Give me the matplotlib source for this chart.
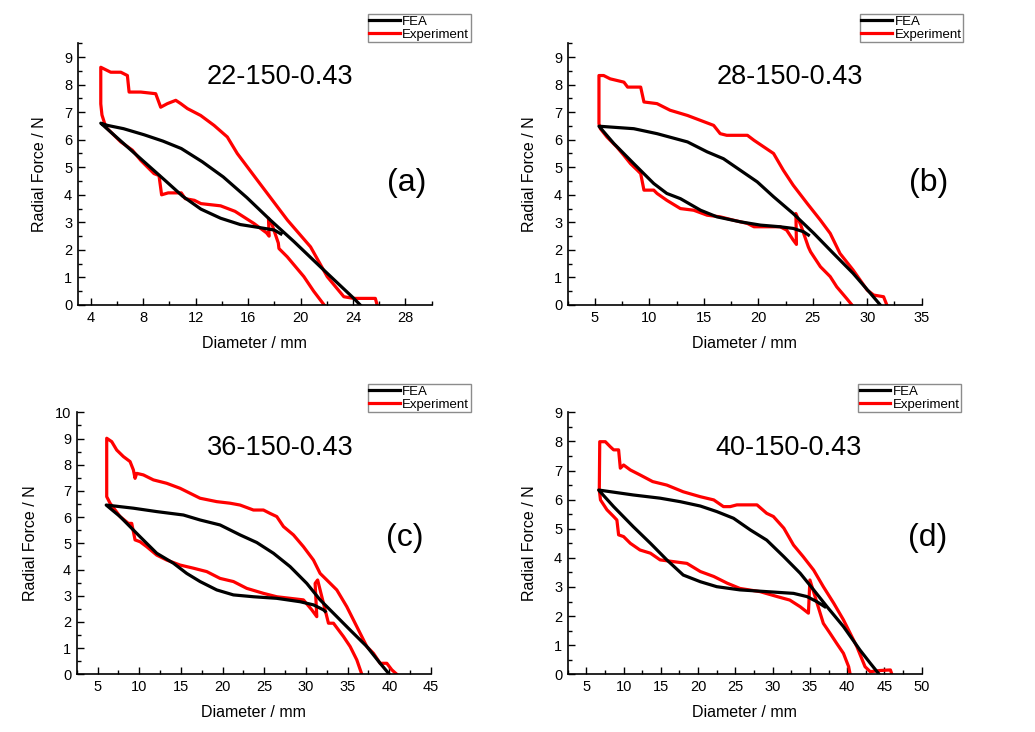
import matplotlib
matplotlib.use('Agg')
import matplotlib.pyplot as plt
from matplotlib.ticker import MultipleLocator

plt.rcParams['font.family'] = ['Liberation Sans', 'DejaVu Sans']

# ---- panel (a) 22-150-0.43 ----
a_fea_x = [24.55, 24.06, 21.5, 19.5, 17.7, 15.9, 14.1, 12.5, 10.9, 9.5, 8.06, 6.5, 5.27, 4.76,
           7.0, 9.6, 11.0, 12.4, 13.9, 15.4, 17.0, 18.0, 18.5]
a_fea_y = [0.0, 0.24, 1.39, 2.3, 3.08, 3.9, 4.65, 5.2, 5.68, 5.95, 6.18, 6.4, 6.52, 6.6,
           5.65, 4.55, 3.95, 3.48, 3.15, 2.92, 2.8, 2.72, 2.58]
a_exp_x = [25.84, 25.7, 24.06, 23.3, 22.03, 20.76, 19.0, 16.7, 15.17, 14.41, 13.4, 12.38, 11.37,
           10.86, 10.48, 9.84, 9.33, 8.95, 7.81, 6.92, 6.79, 6.29, 5.52, 4.76, 4.76, 4.85, 5.14,
           6.29, 7.17, 7.81, 8.82, 9.2, 9.4, 9.9, 10.9, 11.2, 11.9, 12.4, 13.9, 15.0, 16.44,
           17.4, 17.6, 17.55, 17.8, 18.3, 18.35, 18.98, 20.25, 21.0, 21.8]
a_exp_y = [0.0, 0.24, 0.24, 0.3, 1.03, 2.11, 3.08, 4.53, 5.5, 6.1, 6.52, 6.88, 7.13,
           7.31, 7.43, 7.31, 7.18, 7.67, 7.73, 7.73, 8.33, 8.45, 8.45, 8.63, 7.3, 6.9, 6.46,
           5.92, 5.62, 5.25, 4.77, 4.7, 4.0, 4.07, 4.07, 3.86, 3.8, 3.68, 3.6, 3.4, 2.96,
           2.62, 2.5, 3.15, 2.95, 2.25, 2.05, 1.75, 1.03, 0.5, 0.0]

# ---- panel (b) 28-150-0.43 ----
b_fea_x = [31.2, 30.3, 28.7, 26.9, 25.1, 23.2, 21.4, 19.9, 18.35, 16.8, 15.3, 13.5, 10.7, 8.57, 5.37,
           6.74, 8.57, 10.4, 11.6, 12.85, 14.7, 16.2, 18.35, 20.2, 22.0, 23.2, 24.15, 24.6]
b_fea_y = [0.0, 0.42, 1.15, 1.87, 2.6, 3.32, 3.93, 4.47, 4.89, 5.31, 5.56, 5.92, 6.22, 6.4, 6.49,
           5.86, 5.13, 4.41, 4.05, 3.86, 3.44, 3.2, 3.02, 2.9, 2.84, 2.78, 2.66, 2.54]
b_exp_x = [31.8, 31.5, 30.6, 30.0, 28.7, 27.5, 26.6, 25.7, 24.5, 23.2, 22.3, 21.4, 20.5, 19.6,
           19.0, 18.35, 17.1, 16.5, 15.9, 14.7, 13.5, 11.9, 10.7, 9.5, 9.2, 8.0, 7.66, 6.4, 5.8,
           5.37, 5.37, 5.5, 6.1, 7.0, 7.66, 8.27, 8.9, 9.2, 9.5, 10.4, 10.7, 11.6, 12.85, 14.07,
           15.3, 16.5, 17.7, 19.0, 19.6, 20.8, 22.0, 22.6, 23.2, 23.5, 23.45, 23.9, 24.6, 24.8,
           25.7, 26.6, 27.2, 28.1, 28.6]
b_exp_y = [0.0, 0.3, 0.36, 0.54, 1.27, 1.87, 2.6, 3.08, 3.68, 4.35, 4.89, 5.5, 5.74, 5.98,
           6.16, 6.16, 6.16, 6.22, 6.52, 6.7, 6.88, 7.07, 7.31, 7.37, 7.91, 7.91, 8.09, 8.21, 8.33,
           8.33, 6.58, 6.4, 6.1, 5.74, 5.43, 5.13, 4.89, 4.77, 4.17, 4.17, 4.05, 3.8, 3.5, 3.44,
           3.26, 3.2, 3.08, 2.96, 2.84, 2.84, 2.84, 2.72, 2.36, 2.2, 3.32, 2.9, 2.1, 1.93,
           1.39, 1.03, 0.66, 0.24, 0.0]

# ---- panel (c) 36-150-0.43 ----
c_fea_x = [39.9, 38.9, 37.3, 35.3, 33.3, 31.7, 30.1, 28.1, 26.1, 24.1, 22.1, 19.7, 17.3, 15.3, 12.1, 9.3, 6.04,
           7.7, 10.1, 12.1, 14.1, 15.7, 17.3, 19.3, 21.3, 23.7, 26.5, 29.3, 30.9, 32.1, 32.3]
c_fea_y = [0.04, 0.42, 1.06, 1.69, 2.33, 2.84, 3.47, 4.11, 4.62, 5.03, 5.32, 5.7, 5.89, 6.08, 6.21, 6.34, 6.46,
           6.02, 5.25, 4.62, 4.24, 3.85, 3.54, 3.22, 3.03, 2.96, 2.9, 2.77, 2.65, 2.46, 2.4]
c_exp_x = [40.9, 40.3, 39.7, 38.9, 38.1, 37.3, 36.1, 34.9, 33.7, 32.5, 31.7, 30.9, 29.7, 28.5,
           27.3, 26.5, 25.7, 24.9, 23.7, 22.1, 20.9, 19.3, 17.3, 16.1, 14.9, 13.3, 11.7, 10.5,
           9.7, 9.5, 9.3, 8.9, 8.1, 7.3, 6.7, 6.1, 6.1, 6.5, 7.7, 8.7, 9.1, 9.5, 10.1, 10.9,
           12.1, 13.3, 14.9, 16.5, 18.1, 19.7, 21.3, 22.9, 24.9, 26.5, 28.1, 29.7, 30.7, 31.3,
           31.1, 31.4, 32.7, 33.3, 34.5, 35.3, 36.1, 36.7]
c_exp_y = [0.0, 0.17, 0.42, 0.42, 0.8, 1.06, 1.82, 2.58, 3.22, 3.6, 3.85, 4.36, 4.87, 5.32,
           5.64, 6.02, 6.14, 6.27, 6.27, 6.46, 6.53, 6.59, 6.72, 6.91, 7.1, 7.29, 7.42, 7.61,
           7.67, 7.48, 7.8, 8.12, 8.31, 8.56, 8.88, 9.01, 6.78, 6.53, 6.02, 5.76, 5.76, 5.13, 5.06, 4.87,
           4.55, 4.36, 4.17, 4.05, 3.92, 3.66, 3.54, 3.28, 3.09, 2.96, 2.9, 2.84, 2.46, 2.2,
           3.47, 3.6, 1.95, 1.95, 1.44, 1.06, 0.55, 0.0]

# ---- panel (d) 40-150-0.43 ----
d_fea_x = [44.2, 43.1, 41.7, 39.5, 37.3, 35.5, 33.7, 31.5, 29.2, 27.0, 24.75, 22.5, 20.3, 17.6, 14.9, 11.3, 6.65,
           8.66, 11.3, 13.6, 15.8, 18.0, 20.3, 22.5, 25.6, 29.2, 32.8, 34.6, 35.9, 37.0]
d_fea_y = [0.03, 0.38, 0.84, 1.64, 2.32, 2.9, 3.47, 4.04, 4.61, 4.96, 5.36, 5.59, 5.78, 5.93, 6.05, 6.16, 6.33,
           5.76, 5.07, 4.5, 3.93, 3.41, 3.18, 3.01, 2.9, 2.84, 2.78, 2.67, 2.5, 2.32]
d_exp_x = [46.0, 45.8, 44.4, 43.1, 42.4, 41.3, 40.4, 39.5, 38.2, 36.8, 35.5, 34.1, 32.8, 31.5,
           30.1, 29.2, 27.9, 27.0, 25.2, 24.3, 23.4, 22.1, 20.3, 18.0, 15.8, 13.9, 12.2, 10.9,
           10.0, 9.56, 9.33, 8.66, 8.2, 7.55, 6.8, 6.74, 6.9, 7.77, 8.66, 9.1, 9.33, 10.0, 10.9,
           12.2, 13.6, 14.9, 16.7, 18.5, 20.3, 22.1, 23.9, 25.6, 28.3, 30.6, 32.3, 33.7, 34.8,
           35.0, 36.8, 37.7, 38.6, 39.5, 40.2, 40.4]
d_exp_y = [0.0, 0.15, 0.13, 0.09, 0.26, 0.95, 1.41, 1.87, 2.44, 3.01, 3.58, 4.04, 4.44, 5.02,
           5.42, 5.53, 5.82, 5.82, 5.82, 5.76, 5.76, 5.99, 6.1, 6.27, 6.5, 6.62, 6.85, 7.02,
           7.19, 7.08, 7.71, 7.71, 7.82, 7.99, 7.99, 6.33, 5.99, 5.65, 5.42, 5.3, 4.79, 4.73, 4.5,
           4.27, 4.16, 3.93, 3.87, 3.81, 3.53, 3.36, 3.13, 2.95, 2.84, 2.67, 2.55, 2.32, 2.1,
           3.24, 1.75, 1.41, 1.06, 0.72, 0.26, 0.0]

titles = ['22-150-0.43', '28-150-0.43', '36-150-0.43', '40-150-0.43']
tags = ['(a)', '(b)', '(c)', '(d)']

W, H = 1035, 732
fig = plt.figure(figsize=(W / 100, H / 100), dpi=100)

# axes boxes in pixels: left, bottom(from top), right, top(from top)
boxes = [(77.7, 305, 431.7, 43.3), (567.7, 305, 921.7, 43.3),
         (76.7, 674.3, 431, 412.3), (567.7, 674.3, 921.7, 412.3)]
xlims = [(3, 30), (2.5, 35), (2.5, 45), (2.5, 50)]
xmaj = [4, 5, 5, 5]
ylims = [(0, 9.5), (0, 9.5), (0, 10), (0, 9)]
title_pos = [(0.571, 0.871), (0.629, 0.871), (0.576, 0.865), (0.625, 0.865)]
tag_pos = [(0.928, 0.465), (1.019, 0.467), (0.927, 0.519), (1.018, 0.519)]
leg_anchor = [(1.110, 1.112), (1.116, 1.112), (1.112, 1.108), (1.111, 1.108)]

data = [(a_fea_x, a_fea_y, a_exp_x, a_exp_y), (b_fea_x, b_fea_y, b_exp_x, b_exp_y),
        (c_fea_x, c_fea_y, c_exp_x, c_exp_y), (d_fea_x, d_fea_y, d_exp_x, d_exp_y)]

for i in range(4):
    l, b, r, t = boxes[i]
    ax = fig.add_axes([l / W, (H - b) / H, (r - l) / W, (b - t) / H])
    fx, fy, ex, ey = data[i]
    ax.plot(fx, fy, color='black', lw=2.3, label='FEA', zorder=3)
    ax.plot(ex, ey, color='#ff0000', lw=2.3, label='Experiment', zorder=2)

    ax.set_xlim(*xlims[i])
    ax.set_ylim(*ylims[i])
    ax.xaxis.set_major_locator(MultipleLocator(xmaj[i]))
    ax.xaxis.set_minor_locator(MultipleLocator(xmaj[i] / 2))
    ax.yaxis.set_major_locator(MultipleLocator(1))
    ax.yaxis.set_minor_locator(MultipleLocator(0.5))
    ax.tick_params(which='both', direction='in', top=False, right=False, width=1.0)
    ax.tick_params(which='major', length=5, labelsize=10.5, pad=4)
    ax.tick_params(which='minor', length=3)
    for s in ['top', 'right']:
        ax.spines[s].set_visible(False)
    for s in ['left', 'bottom']:
        ax.spines[s].set_linewidth(1.2)

    ax.set_xlabel('Diameter / mm', fontsize=11.5, labelpad=8)
    ax.set_ylabel('Radial Force / N', fontsize=11.5, labelpad=12)
    ax.text(*title_pos[i], titles[i], transform=ax.transAxes, fontsize=19.5,
            ha='center', va='center')
    ax.text(*tag_pos[i], tags[i], transform=ax.transAxes, fontsize=23,
            ha='center', va='center')

    leg = ax.legend(loc='upper right', bbox_to_anchor=leg_anchor[i], borderaxespad=0,
                    fontsize=9.5, fancybox=False, edgecolor='#8c8c8c', framealpha=1,
                    handlelength=2.3, handletextpad=0.2, borderpad=0.1,
                    labelspacing=0.1)
    leg.get_frame().set_linewidth(1.0)

fig.savefig('out.png', dpi=100)
